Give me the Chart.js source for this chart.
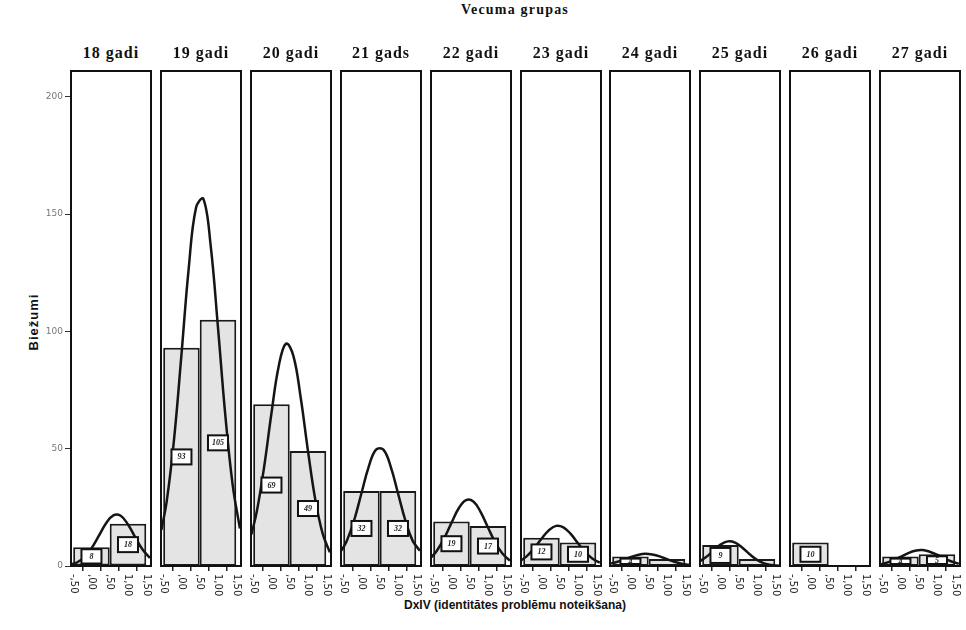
<!DOCTYPE html>
<html>
<head>
<meta charset="utf-8">
<script src="https://cdn.jsdelivr.net/npm/chart.js@4.4.1/dist/chart.umd.min.js"></script>
<style>
  html, body { margin:0; padding:0; background:#fff; }
  #wrap { position:relative; width:966px; height:630px; overflow:hidden; }
  .panel { position:absolute; top:60px; }
  .ttl { position:absolute; font-family:"Liberation Serif", serif; font-weight:bold; color:#111; text-align:center; white-space:nowrap; }
  .axt { position:absolute; font-family:"Liberation Sans", sans-serif; font-weight:bold; color:#111; white-space:nowrap; }
</style>
</head>
<body>
<div id="wrap">
  <div class="ttl" style="left:365px; width:300px; top:2px; font-size:14px; letter-spacing:1.2px;">Vecuma grupas</div>
  <div class="axt" style="left:515px; top:598px; font-size:12px; transform:translateX(-50%);">DxIV (identitātes problēmu noteikšana)</div>
  <div class="axt" style="left:33px; top:322px; font-size:13px; letter-spacing:1px; transform:translate(-50%,-50%) rotate(-90deg);">Biežumi</div>
</div>
<script>
const $ = s => document.querySelector(s);

// vecuma grupas (paneli)
const AGE_GROUPS = ['18 gadi','19 gadi','20 gadi','21 gads','22 gadi','23 gadi','24 gadi','25 gadi','26 gadi','27 gadi'];
// biežumi: DxIV = 0 un DxIV = 1
const BIN_X   = [0, 1];
const COUNT_0 = [8, 93, 69, 32, 19, 12, 4, 9, 10, 4];
const COUNT_1 = [18, 105, 49, 32, 17, 10, 3, 3, 0, 5];

const X_TICKS = [-0.5, 0, 0.5, 1, 1.5];
const X_TICK_LABELS = ['-,50', ',00', ',50', '1,00', '1,50'];
const Y_TICKS = [0, 50, 100, 150, 200];

// normālā līkne, nolasīta no attēla
const CURVE_X  = [-0.55, -0.4, -0.2, 0, 0.2, 0.4, 0.6, 0.8, 1.0, 1.2, 1.4, 1.6];
const CURVE_18 = [0.7, 1.5, 3.7, 7.5, 12.8, 18.2, 21.6, 21.4, 17.7, 12.2, 7.0, 3.4];
const CURVE_19 = [15.3, 28.0, 54.4, 90.1, 127.1, 152.8, 156.5, 136.6, 101.6, 64.4, 34.8, 16.0];
const CURVE_20 = [13.4, 23.3, 42.3, 65.1, 85.3, 94.8, 89.6, 71.8, 49.0, 28.3, 13.9, 5.8];
const CURVE_21 = [6.5, 10.8, 19.5, 31.0, 42.4, 49.6, 49.6, 42.4, 31.0, 19.5, 10.8, 6.5];
const CURVE_22 = [3.7, 6.5, 11.8, 18.4, 24.6, 28.1, 27.5, 23.0, 16.4, 10.0, 5.2, 2.3];
const CURVE_23 = [2.5, 4.2, 7.5, 11.6, 15.2, 17.1, 16.5, 13.7, 9.7, 5.9, 3.1, 1.4];
const CURVE_24 = [1.0, 1.6, 2.6, 3.8, 4.7, 5.2, 4.9, 4.1, 2.9, 1.8, 1.0, 0.5];
const CURVE_25 = [2.2, 3.7, 6.4, 9.1, 10.5, 10.0, 7.8, 5.0, 2.6, 1.1, 0.4, 0.1];
const CURVE_26 = [];
const CURVE_27 = [0.7, 1.3, 2.4, 3.9, 5.4, 6.5, 6.8, 6.1, 4.8, 3.3, 1.9, 1.0];
const CURVES = [CURVE_18, CURVE_19, CURVE_20, CURVE_21, CURVE_22, CURVE_23, CURVE_24, CURVE_25, CURVE_26, CURVE_27];

const PANEL_W = 80, PANEL_TOP = 71, PANEL_BOTTOM = 566, CANVAS_TOP = 60, CANVAS_H = 540;
const panelLeft = i => Math.round(71 + i * 89.9);

// rāmis ap paneli
const framePlugin = {
  id:'frame',
  afterDraw(chart){
    const {ctx, chartArea:a} = chart;
    ctx.save();
    ctx.strokeStyle = '#111'; ctx.lineWidth = 2;
    ctx.strokeRect(a.left, a.top, a.right - a.left, a.bottom - a.top);
    ctx.restore();
  }
};

// x ass etiķetes, pagrieztas +90°
const xLabelPlugin = {
  id:'xlabels',
  afterDraw(chart){
    const {ctx, scales:{x}, chartArea:a} = chart;
    ctx.save();
    ctx.font = '10px "DejaVu Sans", sans-serif';
    ctx.fillStyle = '#222';
    ctx.textAlign = 'left'; ctx.textBaseline = 'middle';
    X_TICKS.forEach((v, k) => {
      ctx.save();
      ctx.translate(x.getPixelForValue(v), a.bottom + 8);
      ctx.rotate(Math.PI / 2);
      ctx.fillText(X_TICK_LABELS[k], 0, 0);
      ctx.restore();
    });
    ctx.restore();
  }
};

// mazās vērtību kastītes stabiņos
const boxPlugin = {
  id:'boxes',
  afterDatasetsDraw(chart){
    const {ctx} = chart;
    const meta = chart.getDatasetMeta(1);
    ctx.save();
    meta.data.forEach((el, k) => {
      const v = chart.data.datasets[1].data[k].y;
      if (!v) return;
      const bh = el.base - el.y;
      const h = Math.min(15, bh - 4);
      if (h < 5) return;
      const w = 20, cx = el.x, cy = (el.y + el.base) / 2;
      ctx.fillStyle = '#fff';
      ctx.fillRect(cx - w/2, cy - h/2, w, h);
      ctx.strokeStyle = '#111'; ctx.lineWidth = 2;
      ctx.strokeRect(cx - w/2, cy - h/2, w, h);
      ctx.fillStyle = '#222';
      ctx.font = 'italic bold 8px "Liberation Serif", serif';
      ctx.textAlign = 'center'; ctx.textBaseline = 'middle';
      ctx.fillText(String(v), cx, cy + 0.5);
    });
    ctx.restore();
  }
};

function makePanel(i){
  const first = i === 0;
  const left = first ? 0 : panelLeft(i) - 2;
  const width = first ? panelLeft(0) + PANEL_W + 2 : PANEL_W + 4;

  const title = document.createElement('div');
  title.className = 'ttl';
  title.style.cssText = `left:${panelLeft(i) - 10}px; width:${PANEL_W + 20}px; top:44px; font-size:16px; letter-spacing:1px;`;
  title.textContent = AGE_GROUPS[i];
  $('#wrap').appendChild(title);

  const cv = document.createElement('canvas');
  cv.className = 'panel';
  cv.width = width; cv.height = CANVAS_H;
  cv.style.left = left + 'px';
  $('#wrap').appendChild(cv);

  const bars = BIN_X.map((x, k) => ({ x, y: k === 0 ? COUNT_0[i] : COUNT_1[i] }));
  const curve = CURVES[i].map((y, k) => ({ x: CURVE_X[k], y }));

  return new Chart(cv, {
    type:'bar',
    data:{
      datasets:[
        { type:'line', data:curve, borderColor:'#151515', borderWidth:2.5, tension:0.4, pointRadius:0, fill:false, order:0 },
        // tick solis ir 0,5, tāpēc stabiņa platums = 2 × solis = viena vienība
        { type:'bar', data:bars, backgroundColor:'#e4e4e4', borderColor:'#1a1a1a', borderWidth:2, borderSkipped:false,
          barPercentage:2, categoryPercentage:1, order:1 }
      ]
    },
    options:{
      responsive:false, animation:false, devicePixelRatio:1,
      layout:{ padding:{ top: PANEL_TOP - CANVAS_TOP, left: first ? 0 : 2, right:2, bottom:0 } },
      plugins:{ legend:{ display:false }, tooltip:{ enabled:false } },
      scales:{
        x:{
          type:'linear', min:-0.56, max:1.63, offset:false,
          afterBuildTicks: s => { s.ticks = X_TICKS.map(value => ({ value })); },
          afterFit: s => { s.height = CANVAS_TOP + CANVAS_H - PANEL_BOTTOM; },
          ticks:{ display:false },
          grid:{ drawOnChartArea:false, drawTicks:true, tickLength:5, color:'#222', lineWidth:1.5 },
          border:{ display:false }
        },
        y:{
          display: first, min:0, max:211,
          afterBuildTicks: s => { s.ticks = Y_TICKS.map(value => ({ value })); },
          afterFit: s => { if (first) s.width = panelLeft(0); },
          ticks:{ color:'#777', font:{ family:'"DejaVu Sans", sans-serif', size:9 }, padding:2 },
          grid:{ drawOnChartArea:false, drawTicks:true, tickLength:6, color:'#333' },
          border:{ display:false }
        }
      }
    },
    plugins:[framePlugin, xLabelPlugin, boxPlugin]
  });
}

AGE_GROUPS.forEach((_, i) => makePanel(i));
</script>
</body>
</html>
